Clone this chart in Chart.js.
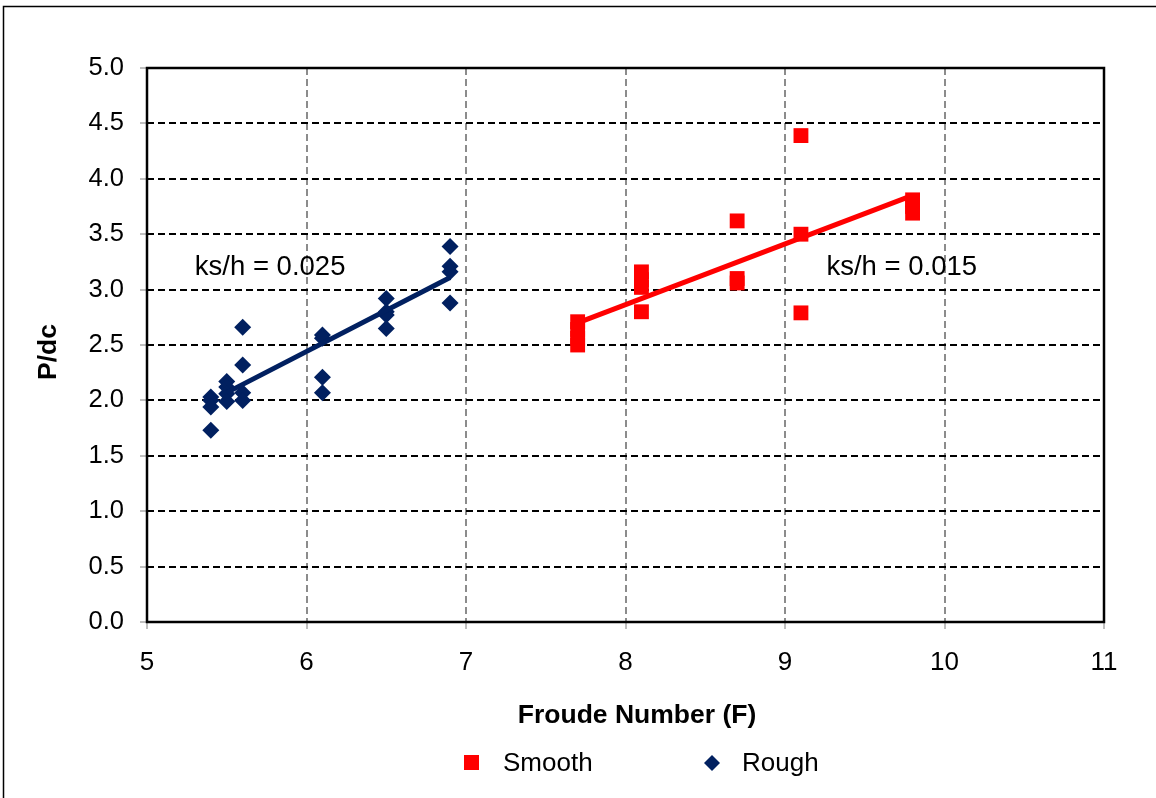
<!DOCTYPE html>
<html>
<head>
  <title>P/dc vs Froude Number</title>
  <script src="https://cdn.jsdelivr.net/npm/chart.js"></script>
  <style>
    body {
      margin: 0;
      background: #fff;
      font-family: 'Liberation Sans', Arial, sans-serif;
    }
    #wrap {
      width: 1156px;
      height: 798px;
    }
  </style>
</head>
<body>
  <div id="wrap"><canvas id="chart" width="1156" height="798"></canvas></div>

  <script>
    // Rough bed points (diamonds)
    const roughF = [5.4, 5.4, 5.4, 5.4, 5.5, 5.5, 5.5, 5.5, 5.6, 5.6, 5.6, 5.6,
                    6.1, 6.1, 6.1, 6.1, 6.5, 6.5, 6.5, 6.5, 6.9, 6.9, 6.9, 6.9];
    const roughP = [2.03, 2.00, 1.94, 1.73, 2.17, 2.12, 2.06, 1.99, 2.66, 2.32, 2.07, 2.00,
                    2.59, 2.56, 2.21, 2.07, 2.92, 2.80, 2.77, 2.65, 3.39, 3.21, 3.16, 2.88];

    // Smooth bed points (squares)
    const smoothF = [7.7, 7.7, 7.7, 7.7, 8.1, 8.1, 8.1, 8.1, 8.7, 8.7, 8.7,
                     9.1, 9.1, 9.1, 9.8, 9.8, 9.8];
    const smoothP = [2.71, 2.64, 2.56, 2.50, 3.16, 3.09, 3.02, 2.80, 3.62, 3.10, 3.06,
                     4.39, 3.50, 2.79, 3.81, 3.75, 3.69];

    // trend lines
    const roughFitF = [5.5, 6.9];
    const roughFitP = [2.07, 3.11];
    const smoothFitF = [7.7, 9.8];
    const smoothFitP = [2.70, 3.85];

    // axes
    const xTicks = [5, 6, 7, 8, 9, 10, 11];
    const yTicks = [0, 0.5, 1, 1.5, 2, 2.5, 3, 3.5, 4, 4.5, 5];

    // annotations: [text, F, P]
    const notes = [
      ['ks/h = 0.025', 5.30, 3.20],
      ['ks/h = 0.015', 9.26, 3.20]
    ];

    const NAVY = '#012060';
    const RED = '#ff0000';
    const FONT = "'Liberation Sans', Arial, sans-serif";

    const toXY = (xs, ys) => xs.map((x, i) => ({ x: x, y: ys[i] }));

    const extras = {
      id: 'extras',
      afterDraw: (chart) => {
        const ctx = chart.ctx;
        const a = chart.chartArea;
        const xs = chart.scales.x;
        const ys = chart.scales.y;
        ctx.save();

        // plot area border
        ctx.strokeStyle = '#000';
        ctx.lineWidth = 2.5;
        ctx.strokeRect(a.left, a.top, a.right - a.left, a.bottom - a.top);

        // outer frame (top + left edges visible)
        ctx.lineWidth = 1.5;
        ctx.beginPath();
        ctx.moveTo(1156, 6.5);
        ctx.lineTo(3.5, 6.5);
        ctx.lineTo(3.5, 798);
        ctx.stroke();

        // annotations
        ctx.fillStyle = '#000';
        ctx.font = '27.5px ' + FONT;
        ctx.textAlign = 'left';
        ctx.textBaseline = 'middle';
        notes.forEach(n => {
          ctx.fillText(n[0], xs.getPixelForValue(n[1]), ys.getPixelForValue(n[2]));
        });

        // axis titles
        ctx.font = 'bold 26.5px ' + FONT;
        ctx.textAlign = 'center';
        ctx.fillText('Froude Number (F)', 637, 716);
        ctx.save();
        ctx.translate(49, 352);
        ctx.rotate(-Math.PI / 2);
        ctx.fillText('P/dc', 0, 0);
        ctx.restore();

        // legend
        ctx.font = '26px ' + FONT;
        ctx.textAlign = 'left';
        ctx.fillStyle = RED;
        ctx.fillRect(464, 755, 15, 15);
        ctx.fillStyle = NAVY;
        ctx.beginPath();
        ctx.moveTo(712, 755);
        ctx.lineTo(720, 763);
        ctx.lineTo(712, 771);
        ctx.lineTo(704, 763);
        ctx.closePath();
        ctx.fill();
        ctx.fillStyle = '#000';
        ctx.fillText('Smooth', 503, 764);
        ctx.fillText('Rough', 742, 764);

        ctx.restore();
      }
    };

    new Chart(document.getElementById('chart'), {
      type: 'scatter',
      data: {
        datasets: [
          {
            label: 'Rough fit',
            type: 'line',
            data: toXY(roughFitF, roughFitP),
            borderColor: NAVY,
            borderWidth: 5,
            pointRadius: 0,
            fill: false
          },
          {
            label: 'Smooth fit',
            type: 'line',
            data: toXY(smoothFitF, smoothFitP),
            borderColor: RED,
            borderWidth: 5,
            pointRadius: 0,
            fill: false
          },
          {
            label: 'Smooth',
            data: toXY(smoothF, smoothP),
            pointStyle: 'rect',
            pointRadius: 10.5,
            backgroundColor: RED,
            borderColor: RED,
            borderWidth: 0
          },
          {
            label: 'Rough',
            data: toXY(roughF, roughP),
            pointStyle: 'rectRot',
            pointRadius: 8.5,
            backgroundColor: NAVY,
            borderColor: NAVY,
            borderWidth: 0
          }
        ]
      },
      options: {
        responsive: false,
        animation: false,
        layout: {
          padding: { left: 0, top: 68, right: 52, bottom: 0 }
        },
        plugins: {
          legend: { display: false },
          tooltip: { enabled: false }
        },
        scales: {
          x: {
            type: 'linear',
            min: 5,
            max: 11,
            afterFit: (s) => { s.height = 176; },
            afterBuildTicks: (s) => { s.ticks = xTicks.map(v => ({ value: v })); },
            ticks: {
              color: '#000',
              font: { size: 26, family: FONT },
              padding: 18,
              maxRotation: 0
            },
            grid: {
              color: '#8c8c8c',
              lineWidth: 2,
              tickLength: 7,
              tickColor: '#7f7f7f',
              tickWidth: 1,
              tickBorderDash: []
            },
            border: { display: false, dash: [7, 4] }
          },
          y: {
            type: 'linear',
            min: 0,
            max: 5,
            afterFit: (s) => { s.width = 147; },
            afterBuildTicks: (s) => { s.ticks = yTicks.map(v => ({ value: v })); },
            ticks: {
              color: '#000',
              font: { size: 25.5, family: FONT },
              padding: 16,
              callback: (v) => Number(v).toFixed(1)
            },
            grid: {
              color: '#000',
              lineWidth: 2,
              tickLength: 7,
              tickColor: '#7f7f7f',
              tickWidth: 1,
              tickBorderDash: []
            },
            border: { display: false, dash: [7, 4] }
          }
        }
      },
      plugins: [extras]
    });
  </script>
</body>
</html>
